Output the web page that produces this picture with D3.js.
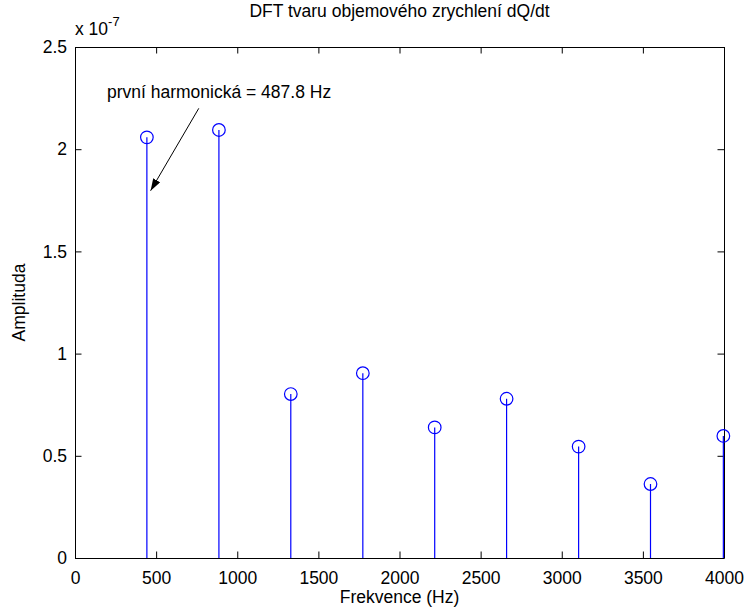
<!DOCTYPE html>
<html lang="cs">
<head>
<meta charset="UTF-8">
<title>DFT tvaru objemového zrychlení dQ/dt</title>
<style>
  body { margin: 0; background: #fff; }
  text { font-family: "Liberation Sans", Arial, sans-serif; fill: #000; }
</style>
</head>
<body>
<svg id="chart" width="747" height="608"></svg>
<script src="https://d3js.org/d3.v7.min.js"></script>
<script>
// data (amplitude in units of 1e-7)
const freqs = [443, 887, 1330, 1774, 2217, 2660, 3104, 3547, 3996];
const amps  = [2.058, 2.094, 0.802, 0.904, 0.639, 0.779, 0.545, 0.362, 0.597];
const xTicks = [0, 500, 1000, 1500, 2000, 2500, 3000, 3500, 4000];
const yTicks = [0, 0.5, 1, 1.5, 2, 2.5];
const annot = { text: "první harmonická = 487.8 Hz", tx: 197, ty: 2.25, x1: 763, y1: 2.20, x2: 466, y2: 1.797 };

const svg = d3.select("#chart");
const m = { left: 75, right: 23, top: 47, bottom: 50 };
const W = 747, H = 608;
const x = d3.scaleLinear().domain([0, 4000]).range([m.left, W - m.right]);
const y = d3.scaleLinear().domain([0, 2.5]).range([H - m.bottom, m.top]);
const fs = 17.5, tick = 6.5;

// axes: ticks pointing inward on all four sides
svg.append("g")
  .attr("transform", `translate(0,${y(0)})`)
  .call(d3.axisBottom(x).tickValues(xTicks).tickSizeInner(-tick).tickSizeOuter(0).tickPadding(10).tickFormat(d3.format("d")))
  .call(g => g.selectAll("text").attr("font-size", fs).attr("dy", "0.9em"));
svg.append("g")
  .attr("transform", `translate(0,${y(2.5)})`)
  .call(d3.axisTop(x).tickValues(xTicks).tickSizeInner(-tick).tickSizeOuter(0).tickFormat(""));
svg.append("g")
  .attr("transform", `translate(${x(0)},0)`)
  .call(d3.axisLeft(y).tickValues(yTicks).tickSizeInner(-tick).tickSizeOuter(0).tickPadding(8).tickFormat(d => d3.format("")(d)))
  .call(g => g.selectAll("text").attr("font-size", fs));
svg.append("g")
  .attr("transform", `translate(${x(4000)},0)`)
  .call(d3.axisRight(y).tickValues(yTicks).tickSizeInner(-tick).tickSizeOuter(0).tickFormat(""));
svg.selectAll(".domain").attr("stroke", "#000");
svg.selectAll(".tick line").attr("stroke", "#000");
svg.selectAll("text").attr("font-family", null);

// stems
svg.append("g").selectAll("line")
  .data(freqs)
  .join("line")
  .attr("x1", d => x(d)).attr("x2", d => x(d))
  .attr("y1", y(0)).attr("y2", (d, i) => y(amps[i]))
  .attr("stroke", "#0000ff").attr("stroke-width", 1.2);
svg.append("g").selectAll("circle")
  .data(freqs)
  .join("circle")
  .attr("cx", d => x(d))
  .attr("cy", (d, i) => y(amps[i]))
  .attr("r", 6.3)
  .attr("fill", "none").attr("stroke", "#0000ff").attr("stroke-width", 1.2);

// title and labels
svg.append("text").attr("x", (x(0) + x(4000)) / 2).attr("y", 17)
  .attr("text-anchor", "middle").attr("font-size", fs).text("DFT tvaru objemového zrychlení dQ/dt");
svg.append("text").attr("x", (x(0) + x(4000)) / 2).attr("y", 603)
  .attr("text-anchor", "middle").attr("font-size", fs).text("Frekvence (Hz)");
svg.append("text").attr("transform", `translate(25,${(y(0) + y(2.5)) / 2}) rotate(-90)`)
  .attr("text-anchor", "middle").attr("font-size", fs).text("Amplituda");
const ex = svg.append("text").attr("x", 75).attr("y", 35).attr("font-size", fs);
ex.append("tspan").text("x 10");
ex.append("tspan").attr("dy", -9).attr("font-size", 13).text("-7");

// annotation with arrow
svg.append("defs").append("marker")
  .attr("id", "ah").attr("viewBox", "0 0 12 8").attr("refX", 12).attr("refY", 4)
  .attr("markerWidth", 12).attr("markerHeight", 8).attr("markerUnits", "userSpaceOnUse")
  .attr("orient", "auto")
  .append("path").attr("d", "M0,0L12,4L0,8Z").attr("fill", "#000");
svg.append("line")
  .attr("x1", x(annot.x1)).attr("y1", y(annot.y1))
  .attr("x2", x(annot.x2)).attr("y2", y(annot.y2))
  .attr("stroke", "#000").attr("stroke-width", 1).attr("marker-end", "url(#ah)");
svg.append("text").attr("x", x(annot.tx)).attr("y", y(annot.ty))
  .attr("font-size", fs).text(annot.text);
</script>
</body>
</html>
